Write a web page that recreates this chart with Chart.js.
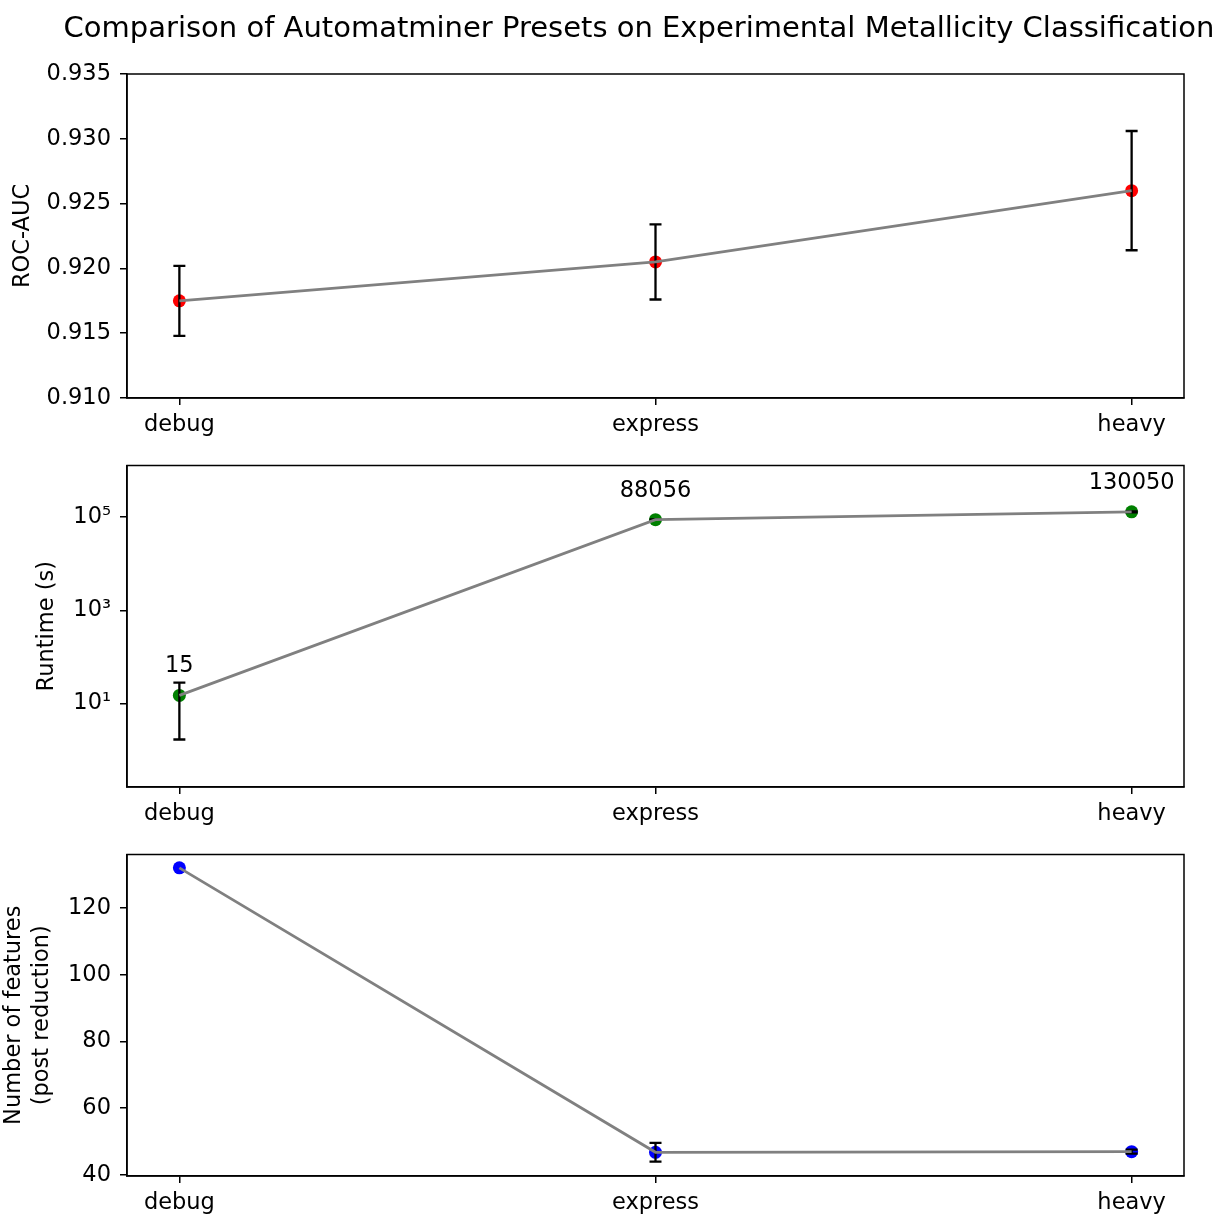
<!DOCTYPE html>
<html>
<head>
<meta charset="utf-8">
<script src="https://cdn.jsdelivr.net/npm/chart.js@4.4.1/dist/chart.umd.min.js"></script>
<style>
  html, body { margin: 0; padding: 0; background: #fff; overflow: hidden; }
  #wrap { position: relative; width: 1215px; height: 1214px; overflow: hidden; }
  canvas { position: absolute; left: 0; }
</style>
</head>
<body>
<div id="wrap">
  <canvas id="auc" width="1215" height="443" style="top:0px"></canvas>
  <canvas id="runtime" width="1215" height="389" style="top:443px"></canvas>
  <canvas id="features" width="1215" height="389" style="top:832px"></canvas>
</div>
<script>
var presets = ['debug', 'express', 'heavy'];

var rocAuc = [0.9175, 0.9205, 0.9260];
var rocAucErr = [0.0027, 0.0029, 0.0046];
var aucTicks = [0.910, 0.915, 0.920, 0.925, 0.930, 0.935];

var runtime = [15, 88056, 130050];
var runtimeErr = [13.3, 1000, 3000];
var runtimeLabels = ['15', '88056', '130050'];
var runtimeTicks = [10, 1000, 100000];
var runtimeTickLabels = ['10\u00b9', '10\u00b3', '10\u2075'];

var nFeatures = [132, 46.8, 47];
var nFeaturesErr = [0, 2.8, 0.6];
var featureTicks = [40, 60, 80, 100, 120];

var title = 'Comparison of Automatminer Presets on Experimental Metallicity Classification';

Chart.defaults.font.family = 'DejaVu Sans';
Chart.defaults.font.size = 22.5;
Chart.defaults.color = '#000';

// error bars go right after the dots, so the gray line still sits on top
var errorBars = {
    id: 'errorBars',
    afterDatasetDraw: function(chart, args, opts) {
        if (args.index !== 1 || !opts.errors) return;
        var ctx = chart.ctx, xs = chart.scales.x, ys = chart.scales.y;
        ctx.save();
        ctx.strokeStyle = '#000';
        ctx.lineWidth = 2.3;
        opts.values.forEach(function(v, i) {
            var e = opts.errors[i];
            if (!e) return;
            var px = xs.getPixelForValue(i);
            var top = ys.getPixelForValue(v + e);
            var bot = ys.getPixelForValue(v - e);
            ctx.beginPath();
            ctx.moveTo(px, top); ctx.lineTo(px, bot);
            ctx.moveTo(px - 6, top); ctx.lineTo(px + 6, top);
            ctx.moveTo(px - 6, bot); ctx.lineTo(px + 6, bot);
            ctx.stroke();
        });
        ctx.restore();
    }
};

var frame = {
    id: 'frame',
    afterDraw: function(chart) {
        var a = chart.chartArea, ctx = chart.ctx;
        ctx.save();
        ctx.strokeStyle = '#000';
        ctx.lineWidth = 1.5;
        ctx.strokeRect(a.left, a.top, a.right - a.left, a.bottom - a.top);
        ctx.restore();
    }
};

var pointLabels = {
    id: 'pointLabels',
    afterDraw: function(chart, args, opts) {
        if (!opts.labels) return;
        var ctx = chart.ctx, xs = chart.scales.x, ys = chart.scales.y;
        ctx.save();
        ctx.font = '22.5px "DejaVu Sans"';
        ctx.fillStyle = '#000';
        ctx.textAlign = 'center';
        ctx.textBaseline = 'alphabetic';
        opts.labels.forEach(function(t, i) {
            ctx.fillText(t, xs.getPixelForValue(i), ys.getPixelForValue(opts.values[i]) - 23);
        });
        ctx.restore();
    }
};

var figTitle = {
    id: 'figTitle',
    afterDraw: function(chart, args, opts) {
        if (!opts.text) return;
        var ctx = chart.ctx;
        ctx.save();
        ctx.font = '29px "DejaVu Sans"';
        ctx.fillStyle = '#000';
        ctx.textAlign = 'center';
        ctx.textBaseline = 'alphabetic';
        ctx.fillText(opts.text, 639, 37);
        ctx.restore();
    }
};

var panel = function(id, cfg) {
    var points = cfg.values.map(function(v, i) { return {x: i, y: v}; });
    var yScale = {
        type: cfg.logY ? 'logarithmic' : 'linear',
        min: cfg.min,
        max: cfg.max,
        afterBuildTicks: function(s) {
            s.ticks = cfg.ticks.map(function(v) { return {value: v}; });
        },
        afterFit: function(s) { s.width = 127; },
        ticks: {
            callback: cfg.tickLabel,
            padding: 9,
            autoSkip: false,
            color: '#000'
        },
        grid: { drawOnChartArea: false, tickLength: 7, color: '#000', lineWidth: 1.5 },
        border: { color: '#000', width: 1.5 },
        title: {
            display: true,
            text: cfg.yTitle,
            color: '#000',
            font: { size: 22.5, lineHeight: cfg.titleLineHeight || 1.2 },
            padding: { top: cfg.titlePad, bottom: 0 }
        }
    };

    return new Chart(document.getElementById(id), {
        type: 'scatter',
        data: {
            datasets: [
                { data: points, showLine: true, borderColor: '#808080', borderWidth: 2.8,
                  pointRadius: 0, order: 0, clip: false },
                { data: points, showLine: false, pointRadius: 6.5, pointBackgroundColor: cfg.color,
                  pointBorderColor: cfg.color, pointBorderWidth: 0, order: 1, clip: false }
            ]
        },
        options: {
            responsive: false,
            animation: false,
            devicePixelRatio: 1,
            layout: { padding: { top: cfg.padTop, left: 0, right: 31, bottom: 0 } },
            plugins: {
                legend: { display: false },
                tooltip: { enabled: false },
                errorBars: { values: cfg.values, errors: cfg.errors },
                pointLabels: { values: cfg.values, labels: cfg.labels },
                figTitle: { text: cfg.figTitle }
            },
            scales: {
                x: {
                    type: 'linear',
                    min: -0.11,
                    max: 2.11,
                    afterBuildTicks: function(s) {
                        s.ticks = presets.map(function(p, i) { return {value: i}; });
                    },
                    afterFit: function(s) { s.height = 45; },
                    ticks: {
                        callback: function(v) { return presets[v]; },
                        padding: 7,
                        maxRotation: 0,
                        autoSkip: false,
                        color: '#000'
                    },
                    grid: { drawOnChartArea: false, tickLength: 7, color: '#000', lineWidth: 1.5 },
                    border: { color: '#000', width: 1.5 }
                },
                y: yScale
            }
        },
        plugins: [errorBars, frame, pointLabels, figTitle]
    });
};

panel('auc', {
    values: rocAuc, errors: rocAucErr, color: '#ff0000',
    min: 0.910, max: 0.935, ticks: aucTicks,
    tickLabel: function(v) { return v.toFixed(3); },
    yTitle: 'ROC-AUC', titlePad: 10, padTop: 74,
    figTitle: title
});

panel('runtime', {
    values: runtime, errors: runtimeErr, color: '#008000', logY: true,
    min: 0.163, max: 1.28e6, ticks: runtimeTicks,
    tickLabel: function(v) { return runtimeTickLabels[runtimeTicks.indexOf(v)]; },
    yTitle: 'Runtime (s)', titlePad: 34, padTop: 20,
    labels: runtimeLabels
});

panel('features', {
    values: nFeatures, errors: nFeaturesErr, color: '#0000ff',
    min: 39.7, max: 136, ticks: featureTicks,
    tickLabel: function(v) { return String(v); },
    yTitle: ['Number of features', '(post reduction)'], titleLineHeight: 1.244, titlePad: 0, padTop: 21
});
</script>
</body>
</html>
